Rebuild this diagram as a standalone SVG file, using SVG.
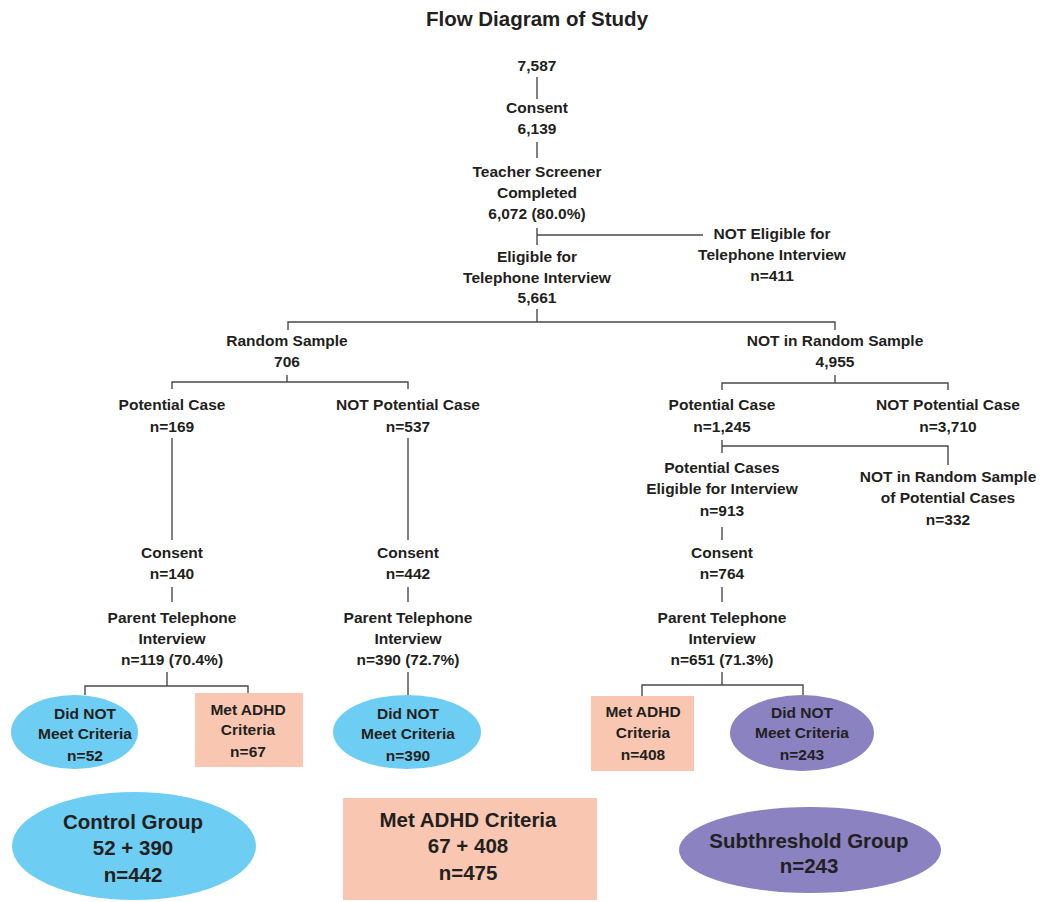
<svg xmlns="http://www.w3.org/2000/svg" width="1054" height="902" viewBox="0 0 1054 902">
<style>
text{font-family:"Liberation Sans",Arial,sans-serif;font-weight:bold;font-size:15.5px;fill:#231f20;text-anchor:middle}
.big{font-size:20.5px}
.ln{fill:none;stroke:#4a4a4a;stroke-width:1.4}
.blue{fill:#6dcdf3}
.salmon{fill:#f9c7b1}
.purple{fill:#8a82c1}
</style>
<rect width="1054" height="902" fill="#ffffff"/>
<text id="title" class="big" x="537" y="26">Flow Diagram of Study</text>
<g id="connectors" class="ln">
<path d="M537,77V99"/>
<path d="M537,142V158"/>
<path d="M537,228V245M537,235H703"/>
<path d="M537,309V322M288,330V322H835V330"/>
<path d="M287,375V382M172,389V382H408V389"/>
<path d="M172,438V540"/>
<path d="M408,438V540"/>
<path d="M172,587V602M408,587V602"/>
<path d="M167,672V686M85,695V686H248V693"/>
<path d="M408,672V695"/>
<path d="M835,375V383M722,390V383H948V390"/>
<path d="M722,440V453M722,446H948V465"/>
<path d="M722,527V540"/>
<path d="M722,587V602"/>
<path d="M722,672V685M642,696V685H803V695"/>
</g>
<g id="n_total"><text x="537" y="71">7,587</text></g>
<g id="n_consent"><text x="537" y="113">Consent</text><text x="537" y="134">6,139</text></g>
<g id="n_screener"><text x="537" y="177">Teacher Screener</text><text x="537" y="198">Completed</text><text x="537" y="219">6,072 (80.0%)</text></g>
<g id="n_not_eligible"><text x="772" y="239">NOT Eligible for</text><text x="772" y="260">Telephone Interview</text><text x="772" y="281">n=411</text></g>
<g id="n_eligible"><text x="537" y="262">Eligible for</text><text x="537" y="283">Telephone Interview</text><text x="537" y="303">5,661</text></g>
<g id="n_random"><text x="287" y="346">Random Sample</text><text x="287" y="367">706</text></g>
<g id="n_not_random"><text x="835" y="346">NOT in Random Sample</text><text x="835" y="367">4,955</text></g>
<g id="n_pc_r"><text x="172" y="410">Potential Case</text><text x="172" y="432">n=169</text></g>
<g id="n_npc_r"><text x="408" y="410">NOT Potential Case</text><text x="408" y="432">n=537</text></g>
<g id="n_pc_nr"><text x="722" y="410">Potential Case</text><text x="722" y="432">n=1,245</text></g>
<g id="n_npc_nr"><text x="948" y="410">NOT Potential Case</text><text x="948" y="432">n=3,710</text></g>
<g id="n_pce"><text x="722" y="473">Potential Cases</text><text x="722" y="494">Eligible for Interview</text><text x="722" y="516">n=913</text></g>
<g id="n_nrs_pc"><text x="948" y="482">NOT in Random Sample</text><text x="948" y="503">of Potential Cases</text><text x="948" y="525">n=332</text></g>
<g id="n_consent_a"><text x="172" y="558">Consent</text><text x="172" y="579">n=140</text></g>
<g id="n_consent_b"><text x="408" y="558">Consent</text><text x="408" y="579">n=442</text></g>
<g id="n_consent_c"><text x="722" y="558">Consent</text><text x="722" y="579">n=764</text></g>
<g id="n_pti_a"><text x="172" y="623">Parent Telephone</text><text x="172" y="644">Interview</text><text x="172" y="665">n=119 (70.4%)</text></g>
<g id="n_pti_b"><text x="408" y="623">Parent Telephone</text><text x="408" y="644">Interview</text><text x="408" y="665">n=390 (72.7%)</text></g>
<g id="n_pti_c"><text x="722" y="623">Parent Telephone</text><text x="722" y="644">Interview</text><text x="722" y="665">n=651 (71.3%)</text></g>
<g id="n_dnm_a"><ellipse class="blue" cx="74.5" cy="732" rx="63.5" ry="37"/><text x="85" y="719">Did NOT</text><text x="85" y="739">Meet Criteria</text><text x="85" y="761">n=52</text></g>
<g id="n_met_a"><rect class="salmon" x="195" y="693" width="108" height="74"/><text x="248" y="715">Met ADHD</text><text x="248" y="735">Criteria</text><text x="248" y="757">n=67</text></g>
<g id="n_dnm_b"><ellipse class="blue" cx="407" cy="732" rx="74" ry="37"/><text x="408" y="719">Did NOT</text><text x="408" y="739">Meet Criteria</text><text x="408" y="761">n=390</text></g>
<g id="n_met_c"><rect class="salmon" x="591" y="696" width="103" height="75"/><text x="643" y="717">Met ADHD</text><text x="643" y="738">Criteria</text><text x="643" y="760">n=408</text></g>
<g id="n_dnm_c"><ellipse class="purple" cx="802" cy="733" rx="72" ry="38"/><text x="802" y="718">Did NOT</text><text x="802" y="738">Meet Criteria</text><text x="802" y="760">n=243</text></g>
<g id="n_control"><ellipse class="blue" cx="134" cy="846" rx="122" ry="54"/><text class="big" x="133" y="829">Control Group</text><text class="big" x="133" y="855">52 + 390</text><text class="big" x="133" y="882">n=442</text></g>
<g id="n_adhd"><rect class="salmon" x="343" y="798" width="254" height="102"/><text class="big" x="468" y="827">Met ADHD Criteria</text><text class="big" x="468" y="853">67 + 408</text><text class="big" x="468" y="880">n=475</text></g>
<g id="n_sub"><ellipse class="purple" cx="810" cy="850" rx="131" ry="43"/><text class="big" x="809" y="848">Subthreshold Group</text><text class="big" x="809" y="873">n=243</text></g>
</svg>
